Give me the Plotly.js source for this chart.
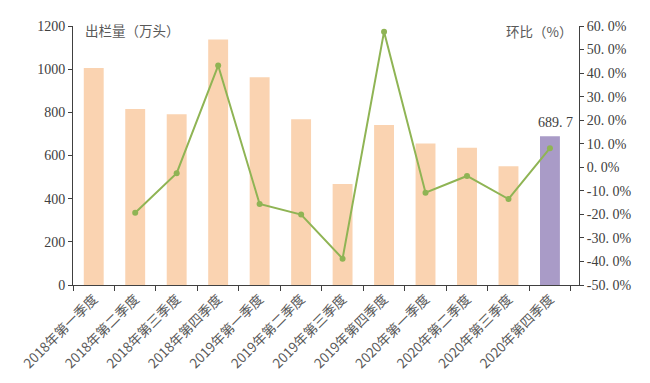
<!DOCTYPE html>
<html><head><meta charset="utf-8">
<script src="https://cdn.plot.ly/plotly-3.0.1.min.js"></script>
<style>body{margin:0;background:#fff}#c{width:650px;height:383px}</style>
</head><body><div id="c"></div>
<script>
const categories = ["2018年第一季度","2018年第二季度","2018年第三季度","2018年第四季度","2019年第一季度","2019年第二季度","2019年第三季度","2019年第四季度","2020年第一季度","2020年第二季度","2020年第三季度","2020年第四季度"];
const outputValues = [1005, 815, 791, 1138, 962, 768, 468, 741, 656, 636, 550, 689.7];
const qoqCategories = categories.slice(1);
const qoqValues = [-19.3, -2.5, 43.2, -15.6, -20.1, -38.8, 57.6, -10.8, -3.7, -13.5, 8.1];
const rightTickVals = [-50,-40,-30,-20,-10,0,10,20,30,40,50,60];
const rightTickText = ["-50. 0%","-40. 0%","-30. 0%","-20. 0%","-10. 0%","0. 0%","10. 0%","20. 0%","30. 0%","40. 0%","50. 0%","60. 0%"];
const lastLabel = "689. 7";

const peach = "#FAD3B1", purple = "#A99BC7", green = "#8FB454";
const font = "'Liberation Serif', 'Noto Sans CJK SC', serif";
const cjk = "'Noto Sans CJK SC', sans-serif";
const n = outputValues.length;
const barColors = outputValues.map((v,i)=> i===n-1 ? purple : peach);

const traces = [
  {type:"bar", x:categories, y:outputValues, marker:{color:barColors}, yaxis:"y", hoverinfo:"none"},
  {type:"scatter", mode:"lines+markers", x:qoqCategories, y:qoqValues, yaxis:"y2",
   line:{color:green,width:2}, marker:{color:green,size:6}}
];
const layout = {
  width:650, height:383, margin:{l:73,r:71,t:26,b:98},
  paper_bgcolor:"#fff", plot_bgcolor:"#fff", showlegend:false, bargap:0.52,
  font:{family:font,color:"#404040",size:12},
  xaxis:{type:"category", tickangle:-45, showline:true, linecolor:"#404040", linewidth:1,
    ticks:"outside", tickson:"boundaries", ticklen:5, tickcolor:"#404040",
    tickfont:{family:cjk,size:13.5,color:"#595959"}, showgrid:false},
  yaxis:{range:[0,1200], dtick:200, showline:true, linecolor:"#404040", ticks:"outside",
    ticklen:4, tickcolor:"#404040", showgrid:false, zeroline:false,
    tickfont:{family:font,size:14,color:"#404040"}},
  yaxis2:{overlaying:"y", side:"right", range:[-50,60], showline:true,
    tickvals:rightTickVals, ticktext:rightTickText,
    linecolor:"#404040", ticks:"outside", ticklen:4, tickcolor:"#404040", showgrid:false,
    zeroline:false, tickfont:{family:font,size:14,color:"#404040"}},
  annotations:[
    {text:"出栏量（万头）", xref:"paper", yref:"paper", x:0.02, y:0.985, xanchor:"left", yanchor:"middle",
     showarrow:false, font:{family:cjk,size:13.5,color:"#595959"}},
    {text:"环比（%）", xref:"paper", yref:"paper", x:0.99, y:0.98, xanchor:"right", yanchor:"middle",
     showarrow:false, font:{family:cjk,size:13.5,color:"#595959"}},
    {text:lastLabel, xref:"x", yref:"y", x:categories[n-1], y:outputValues[n-1], yanchor:"bottom",
     yshift:4, xshift:6, showarrow:false, font:{family:font,size:14,color:"#404040"}}
  ]
};
Plotly.newPlot("c", traces, layout, {displayModeBar:false, staticPlot:true});
</script></body></html>
